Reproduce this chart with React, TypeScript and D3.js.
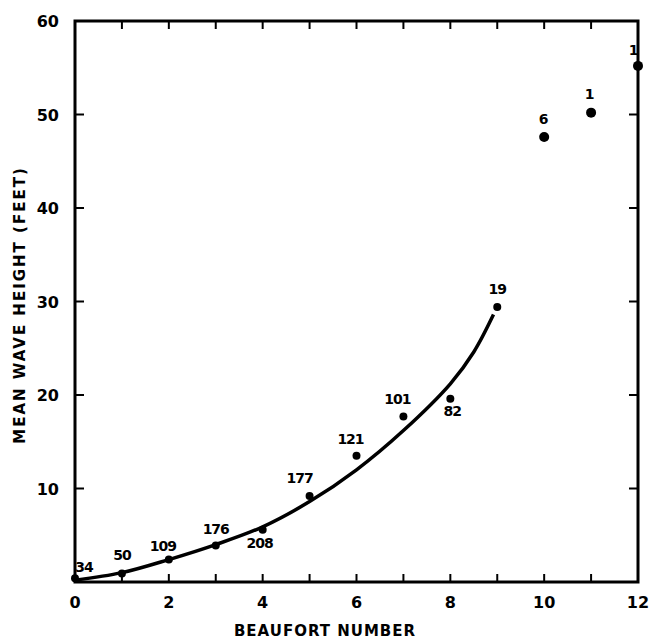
import React from "react";
import * as d3 from "d3";

const beaufort = [0, 1, 2, 3, 4, 5, 6, 7, 8, 9, 10, 11, 12];
const meanHeight = [0.4, 0.9, 2.4, 3.9, 5.6, 9.2, 13.5, 17.7, 19.6, 29.4, 47.6, 50.2, 55.2];
const counts = ["34", "50", "109", "176", "208", "177", "121", "101", "82", "19", "6", "1", "1"];
// label placement relative to point (px)
const labelDx = [9, 0, -6, 0, -3, -10, -6, -6, 2, 0, -1, -2, -5];
const labelDy = [-6, -14, -9, -12, 18, -13, -12, -13, 17, -13, -13, -14, -11];

const curveX = [0, 1, 2, 3, 4, 5, 6, 7, 8, 8.5, 8.92];
const curveY = [0.2, 1.0, 2.4, 4.0, 5.9, 8.6, 12.0, 16.2, 21.2, 24.6, 28.6];

const xTicks = [0, 2, 4, 6, 8, 10, 12];
const yTicks = [10, 20, 30, 40, 50, 60];

export default function App() {
  const W = 650, H = 643;
  const left = 75, right = 638, top = 21, bottom = 582;
  const x = d3.scaleLinear().domain([0, 12]).range([left, right]);
  const y = d3.scaleLinear().domain([0, 60]).range([bottom, top]);
  const line = d3
    .line<number>()
    .x((_, i) => x(curveX[i]))
    .y((d) => y(d))
    .curve(d3.curveCatmullRom.alpha(0.5));
  const font = "'DejaVu Sans', sans-serif";
  const minorX = d3.range(0, 13);
  return (
    <svg width={W} height={H} style={{ position: "absolute", left: 0, top: 0 }}>
      <rect x={0} y={0} width={W} height={H} fill="white" />
      <rect x={left} y={top} width={right - left} height={bottom - top} fill="none" stroke="black" strokeWidth={3} />
      {minorX.map((t) => (
        <g key={"xt" + t}>
          <line x1={x(t)} x2={x(t)} y1={bottom} y2={bottom - 8} stroke="black" strokeWidth={2} />
          <line x1={x(t)} x2={x(t)} y1={top} y2={top + 8} stroke="black" strokeWidth={2} />
        </g>
      ))}
      {yTicks.map((t) => (
        <g key={"yt" + t}>
          <line x1={left} x2={left + 9} y1={y(t)} y2={y(t)} stroke="black" strokeWidth={2} />
          <line x1={right} x2={right - 9} y1={y(t)} y2={y(t)} stroke="black" strokeWidth={2} />
        </g>
      ))}
      {xTicks.map((t) => (
        <text key={"xl" + t} x={x(t)} y={608} textAnchor="middle" fontFamily={font} fontWeight={900} fontSize={16}>
          {t}
        </text>
      ))}
      {yTicks.map((t) => (
        <text key={"yl" + t} x={59} y={y(t) + 6} textAnchor="end" fontFamily={font} fontWeight={900} fontSize={16}>
          {t}
        </text>
      ))}
      <text x={325} y={636} textAnchor="middle" fontFamily={font} fontWeight={900} fontSize={15} letterSpacing={1}>
        BEAUFORT  NUMBER
      </text>
      <text
        transform={`translate(25, 305) rotate(-90)`}
        textAnchor="middle"
        fontFamily={font}
        fontWeight={900}
        fontSize={15}
        letterSpacing={2}
      >
        MEAN WAVE HEIGHT  (FEET)
      </text>
      <path d={line(curveY) || ""} fill="none" stroke="black" strokeWidth={3.5} />
      {beaufort.map((b, i) => (
        <g key={"p" + i}>
          <circle cx={x(b)} cy={y(meanHeight[i])} r={i >= 10 ? 5 : 4} fill="black" />
          <text
            x={x(b) + labelDx[i]}
            y={y(meanHeight[i]) + labelDy[i]}
            textAnchor="middle"
            fontFamily={font}
            fontWeight={900}
            fontSize={14}
            letterSpacing={-1}
          >
            {counts[i]}
          </text>
        </g>
      ))}
    </svg>
  );
}
